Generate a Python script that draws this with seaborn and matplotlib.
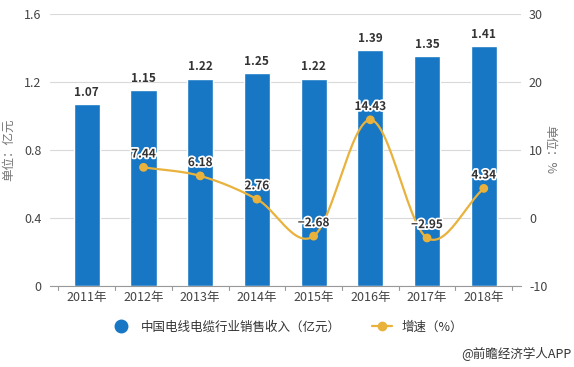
import numpy as np
import pandas as pd
import matplotlib
matplotlib.use("Agg")
import matplotlib.pyplot as plt
import matplotlib.patheffects as pe
from matplotlib.lines import Line2D
import seaborn as sns

years = ["2011年", "2012年", "2013年", "2014年", "2015年", "2016年", "2017年", "2018年"]
revenue = [1.07, 1.15, 1.22, 1.25, 1.22, 1.39, 1.35, 1.41]
growth = [None, 7.44, 6.18, 2.76, -2.68, 14.43, -2.95, 4.34]
left_ticks = [0, 0.4, 0.8, 1.2, 1.6]
right_ticks = [-10, 0, 10, 20, 30]

sns.set_style("white")
plt.rcParams['font.family'] = ['Noto Sans CJK SC', 'DejaVu Sans']

BAR = "#1777c4"
LINE = "#e9b23c"
GRID = "#d9d9d9"
TXT = "#444444"

fig = plt.figure(figsize=(5.74, 3.67), dpi=100)
ax = fig.add_axes([0.087, 0.221, 0.82, 0.741])
df = pd.DataFrame({"year": years, "rev": revenue})
sns.barplot(data=df, x="year", y="rev", color=BAR, width=0.46, saturation=1, ax=ax)
ax.set_ylim(0, 1.6)
ax.set_xlim(-0.65, 7.65)
ax.set_yticks(left_ticks)
ax.set_yticklabels(["0", "0.4", "0.8", "1.2", "1.6"], color=TXT, fontsize=9)
ax.grid(axis="y", color=GRID, lw=0.8)
ax.set_axisbelow(True)
for s in ["top", "right", "left"]:
    ax.spines[s].set_visible(False)
ax.spines["bottom"].set_color("#999999")
ax.tick_params(axis="y", length=0, pad=6)
ax.tick_params(axis="x", length=0, labelsize=9, labelcolor=TXT, pad=4)
ax.set_xlabel("")
ax.set_ylabel("单位：亿元", color="#777777", fontsize=9)
ax.yaxis.set_label_coords(-0.075, 0.5)
for b in np.arange(-0.5, 8.5, 1.0):
    ax.plot([b, b], [0, -0.025], color="#999999", lw=0.8, clip_on=False)
for i, v in enumerate(revenue):
    ax.text(i, v + 0.03, f"{v:.2f}", ha="center", va="bottom", fontsize=8.5,
            fontweight="bold", color="#333333")

ax2 = ax.twinx()
ax2.set_ylim(-10, 30)
ax2.set_yticks(right_ticks)
ax2.set_yticklabels([str(t) for t in right_ticks], color=TXT, fontsize=9)
ax2.tick_params(axis="y", length=0, pad=6)
for s in ["top", "right", "left", "bottom"]:
    ax2.spines[s].set_visible(False)
ax2.set_ylabel("单位：%", color="#777777", fontsize=9, rotation=-90)
ax2.yaxis.set_label_coords(1.075, 0.5)

xs = np.array([i for i, g in enumerate(growth) if g is not None], dtype=float)
ys = np.array([g for g in growth if g is not None], dtype=float)

# Catmull-Rom smoothing of the line
px = np.concatenate([[2 * xs[0] - xs[1]], xs, [2 * xs[-1] - xs[-2]]])
py = np.concatenate([[2 * ys[0] - ys[1]], ys, [2 * ys[-1] - ys[-2]]])
cx, cy = [], []
t = np.linspace(0, 1, 30)
for k in range(1, len(px) - 2):
    p0, p1, p2, p3 = [np.array([px[j], py[j]]) for j in (k - 1, k, k + 1, k + 2)]
    tt = t[:, None]
    pts = 0.5 * ((2 * p1) + (-p0 + p2) * tt + (2 * p0 - 5 * p1 + 4 * p2 - p3) * tt ** 2
                 + (-p0 + 3 * p1 - 3 * p2 + p3) * tt ** 3)
    cx.extend(pts[:, 0]); cy.extend(pts[:, 1])
ax2.plot(cx, cy, color=LINE, lw=1.6, zorder=3)
sns.scatterplot(x=xs, y=ys, color=LINE, s=40, edgecolor="none", ax=ax2, zorder=4)
for x, y in zip(xs, ys):
    ax2.text(x, y + 1.0, f"{y:.2f}".replace("-", "−"), ha="center", va="bottom", fontsize=8.5,
             fontweight="bold", color="#333333",
             path_effects=[pe.withStroke(linewidth=2.5, foreground="white")], zorder=5)

handles = [
    Line2D([], [], marker="o", color=BAR, linestyle="none", markersize=9),
    Line2D([], [], marker="o", color=LINE, linestyle="-", lw=1.6, markersize=6),
]
fig.legend(handles, ["中国电线电缆行业销售收入（亿元）", "增速（%）"], loc="center",
           bbox_to_anchor=(0.5, 0.108), ncol=2, frameon=False, fontsize=9,
           handlelength=1.6, columnspacing=2.5, labelcolor="#333333")
fig.text(0.995, 0.035, "@前瞻经济学人APP", ha="right", va="center", fontsize=9, color="#333333")

fig.savefig("out.png", dpi=100)
